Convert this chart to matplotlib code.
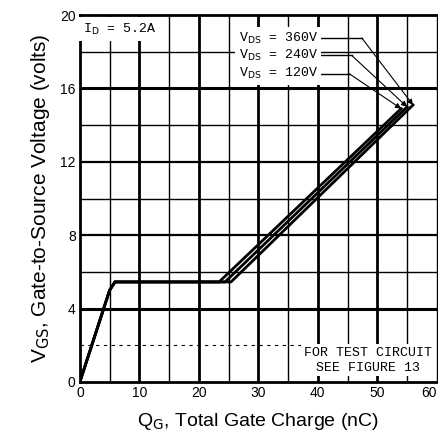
import matplotlib.pyplot as plt

# gate charge curves (nC, V)
qg_120 = [0, 5.0, 5.9, 23.4, 54.0]
vgs_120 = [0, 5.0, 5.45, 5.45, 14.9]
qg_240 = [0, 5.0, 5.9, 24.4, 55.0]
vgs_240 = [0, 5.0, 5.45, 5.45, 15.0]
qg_360 = [0, 5.0, 5.9, 25.4, 56.0]
vgs_360 = [0, 5.0, 5.45, 5.45, 15.1]

x_ticks = [0, 10, 20, 30, 40, 50, 60]
y_ticks = [0, 4, 8, 12, 16, 20]
thick_x = [10, 20, 30, 40, 50]
thin_x = [5, 15, 25, 35, 45, 55]
thick_y = [4, 16]
mid_y = [8, 12]
thin_y = [6, 10, 14, 18]

mono = 'Liberation Mono'
sans = 'Liberation Sans'

fig = plt.figure(figsize=(4.39, 4.32), dpi=100)
ax = fig.add_axes([0.182, 0.116, 0.813, 0.849])
ax.set_xlim(0, 60)
ax.set_ylim(0, 20)

for x in thick_x:
    ax.axvline(x, color='black', lw=2.0, zorder=1)
for x in thin_x:
    ax.axvline(x, color='black', lw=1.0, zorder=1)
for y in thick_y:
    ax.axhline(y, color='black', lw=2.2, zorder=1)
for y in mid_y:
    ax.axhline(y, color='black', lw=1.6, zorder=1)
for y in thin_y:
    ax.axhline(y, color='black', lw=1.0, zorder=1)
ax.axhline(2, color='black', lw=0.8, ls=(0, (3, 4)), zorder=1)

for q, v in [(qg_120, vgs_120), (qg_240, vgs_240), (qg_360, vgs_360)]:
    ax.plot(q, v, color='black', lw=2.0, zorder=3, solid_joinstyle='round')

ax.text(0.5, 19.65, r'I$_\mathrm{D}$ = 5.2A', family=mono, fontsize=9.5,
        va='top', ha='left', zorder=4,
        bbox=dict(facecolor='white', edgecolor='none', pad=3))

labels = ['360V', '240V', '120V']
label_y = [18.75, 17.8, 16.8]
ends = [(qg_360[-1], vgs_360[-1]), (qg_240[-1], vgs_240[-1]), (qg_120[-1], vgs_120[-1])]
knees = [47.4, 45.7, 45.3]
for lab, ly, (ex, ey), kx in zip(labels, label_y, ends, knees):
    ax.text(40.0, ly, r'V$_\mathrm{DS}$ = ' + lab, family=mono, fontsize=9.5,
            ha='right', va='center', zorder=4,
            bbox=dict(facecolor='white', edgecolor='none', pad=2.5))
    ax.plot([40.2, kx], [ly, ly], color='black', lw=1.0, zorder=3)
    ax.annotate('', xy=(ex, ey), xytext=(kx, ly), zorder=3,
                arrowprops=dict(arrowstyle='-|>', color='black', lw=0.8,
                                mutation_scale=8, shrinkA=0, shrinkB=0))

ax.text(48.4, 1.6, 'FOR TEST CIRCUIT', family=mono, fontsize=9.5,
        ha='center', va='center', zorder=4,
        bbox=dict(facecolor='white', edgecolor='none', pad=2))
ax.text(48.4, 0.75, 'SEE FIGURE 13', family=mono, fontsize=9.5,
        ha='center', va='center', zorder=4,
        bbox=dict(facecolor='white', edgecolor='none', pad=1))

ax.set_xticks(x_ticks)
ax.set_yticks(y_ticks)
ax.tick_params(length=0, labelsize=10, pad=3)
for lab in ax.get_xticklabels() + ax.get_yticklabels():
    lab.set_family(sans)
ax.get_xticklabels()[-1].set_horizontalalignment('right')

for side in ['left', 'bottom', 'top']:
    ax.spines[side].set_linewidth(2.0)
ax.spines['right'].set_linewidth(1.0)

ax.set_xlabel(r'Q$_\mathrm{G}$, Total Gate Charge (nC)', family=sans, fontsize=14, labelpad=8)
ax.set_ylabel(r'V$_\mathrm{GS}$, Gate-to-Source Voltage (volts)', family=sans, fontsize=15, labelpad=6)

fig.savefig('out.png', dpi=100)
plt.close(fig)
